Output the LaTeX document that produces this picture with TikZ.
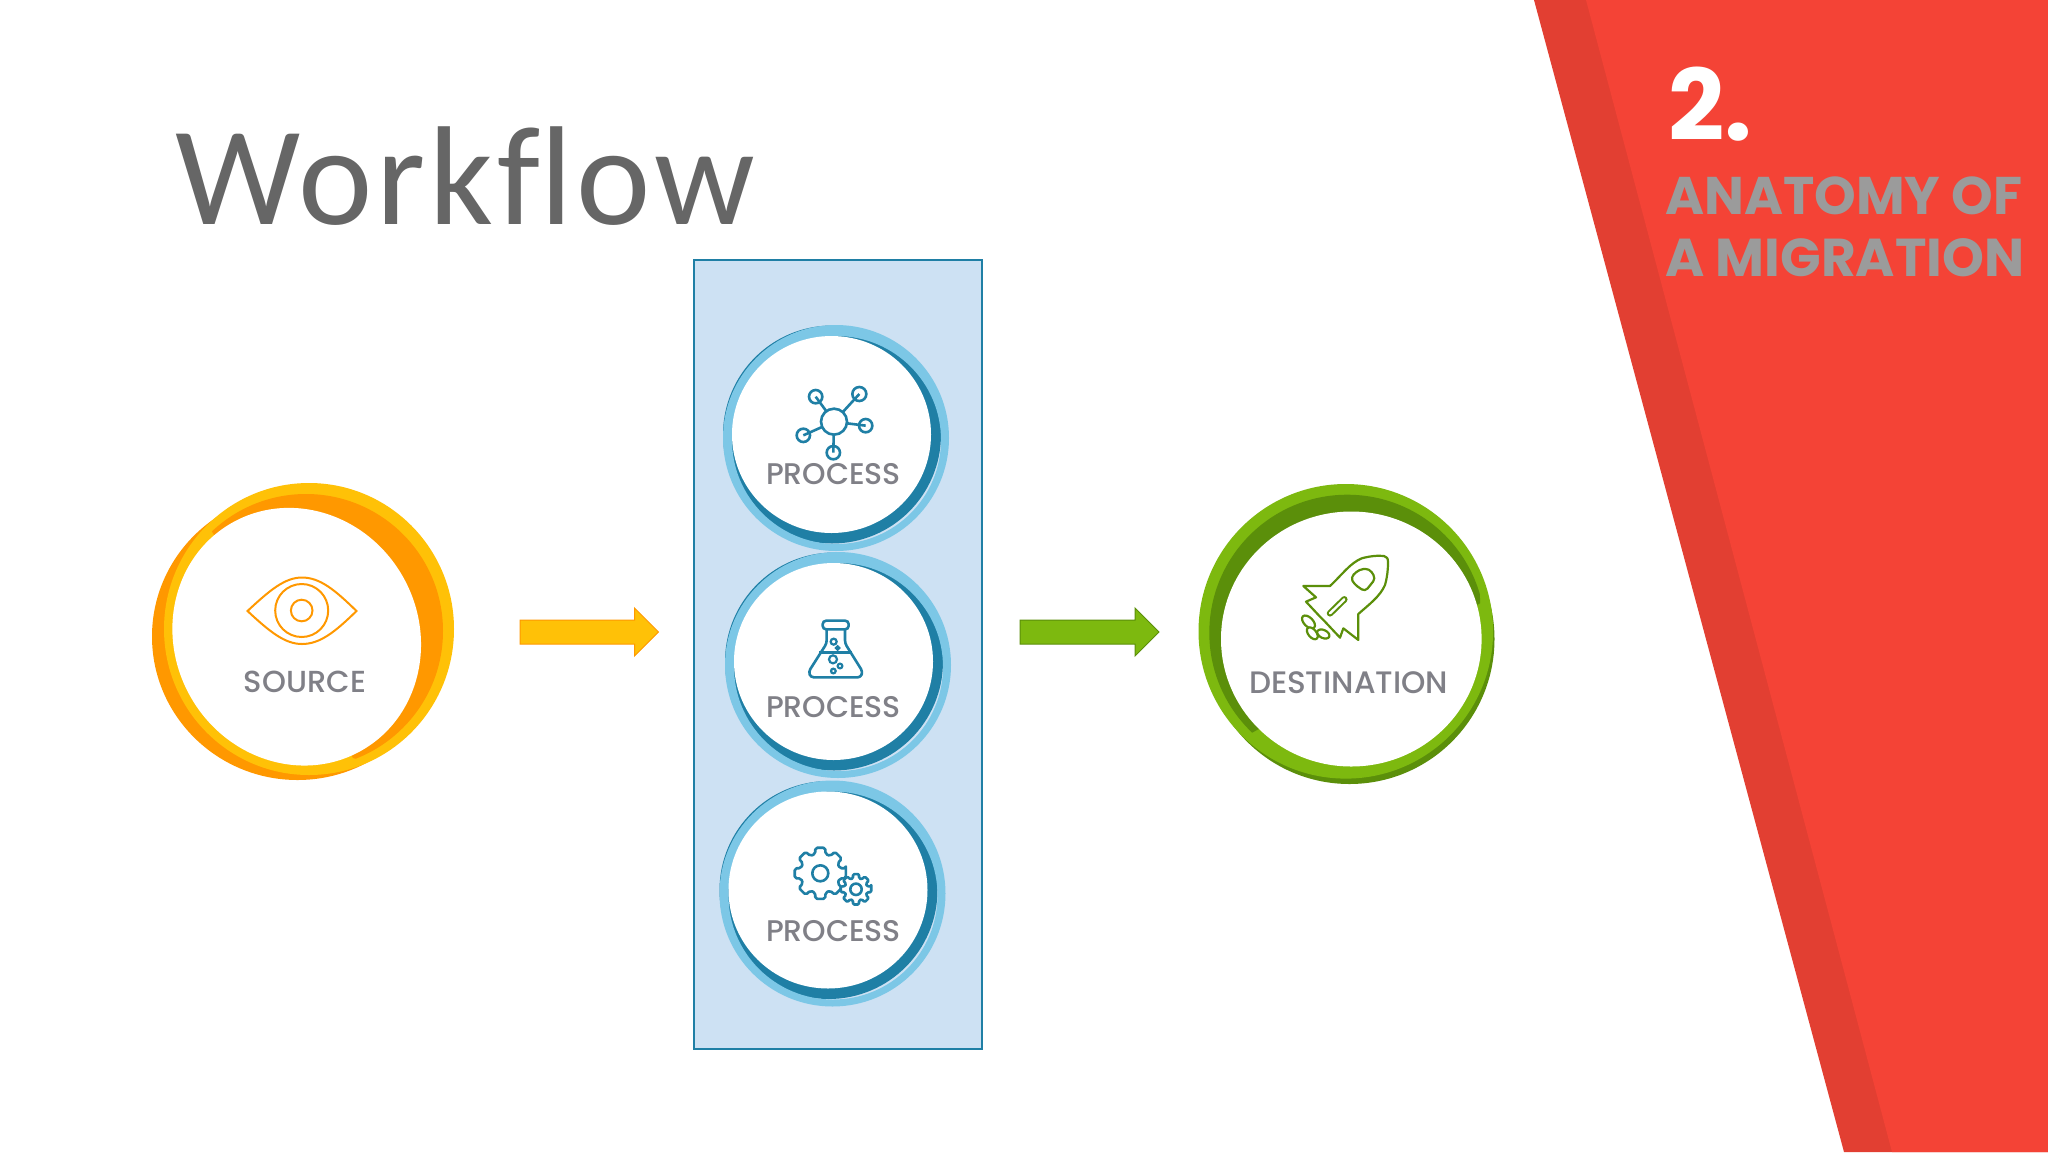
\documentclass[tikz,border=0pt]{standalone}
\usepackage{fontspec}
\newfontfamily\lblfont{Poppins Medium}
\newfontfamily\boldlbl{Poppins}[BoldFont={Poppins Bold}]
\newfontfamily\ttlfont{Carlito}[LetterSpace=2.8]
\definecolor{redB}{HTML}{F44336}
\definecolor{redD}{HTML}{E23F32}
\definecolor{yelL}{HTML}{FFC107}
\definecolor{yelD}{HTML}{FF9800}
\definecolor{bluL}{HTML}{7CC7E6}
\definecolor{bluD}{HTML}{1F7FA5}
\definecolor{bluBg}{HTML}{CDE1F3}
\definecolor{grnL}{HTML}{7DB90F}
\definecolor{grnD}{HTML}{5B8F0A}
\definecolor{lblgray}{HTML}{808087}
\definecolor{ttlgray}{HTML}{666666}
\definecolor{subgray}{HTML}{9B9B9B}
\tikzset{
  lbl/.style={inner sep=0pt,anchor=base,text=lblgray},
  orangeicon/.style={draw=yelD,line width=2pt,fill=none},
  blueicon/.style={draw=bluD,line width=2.6pt,fill=white},
  greenicon/.style={draw=grnD,line width=2.2pt,fill=white,line join=round},
}
\newcommand{\fitw}[2]{\resizebox{#1pt}{!}{#2}}
\newcommand{\bluering}[2]{%
  \fill[bluD] (#1+0.5,#2) circle[radius=109];
  \fill[bluL,even odd rule] (#1+4.5,#2+3.5) circle[radius=113] (#1+5,#2+5.5) ellipse[x radius=104.5,y radius=104];
  \fill[white] (#1,#2) ellipse[x radius=99.5,y radius=98.5];
}
\begin{document}
\begin{tikzpicture}[x=1pt,y=-1pt]
\useasboundingbox (0,0) rectangle (2048,1152);
\fill[white] (0,0) rectangle (2048,1152);
% red band
\fill[redD] (1534,0) -- (2048,0) -- (2048,1152) -- (1844,1152) -- cycle;
\fill[redB] (1586,0) -- (2048,0) -- (2048,1152) -- (1892,1152) -- cycle;
\node[inner sep=0pt,anchor=base west,text=white] (num) at (1668,140) {\fitw{84}{\boldlbl\bfseries 2.}};
\node[inner sep=0pt,anchor=base west,text=subgray] (sub1) at (1665,214) {\fitw{357}{\boldlbl\bfseries ANATOMY OF}};
\node[inner sep=0pt,anchor=base west,text=subgray] (sub2) at (1665,276) {\fitw{359}{\boldlbl\bfseries A MIGRATION}};
% title
\node[inner sep=0pt,anchor=base west,text=ttlgray] (title) at (175,224) {\fitw{580}{\ttlfont Workf\kern0pt low}};
% source
\fill[yelD] (297.5,636.5) ellipse[x radius=145.5,y radius=143.5];
\fill[yelL] (309,629) ellipse[x radius=145,y radius=146];
\begin{scope}
  \clip (211,530) -- (353,758) -- (500,800) -- (500,400) -- (211,400) -- cycle;
  \fill[yelD] (306,631) circle[radius=137];
\end{scope}
\fill[white,rotate around={-60:(296.7,636.7)}] (296.7,636.7) ellipse[x radius=131,y radius=122];
\draw[orangeicon] (247.5,611) .. controls (270,590) and (285,577.5) .. (302,577.5) .. controls (320,577.5) and (335,590) .. (356.5,611) .. controls (335,632) and (320,644) .. (302,644) .. controls (285,644) and (270,632) .. (247.5,611) -- cycle;
\draw[orangeicon] (301.7,610.5) circle[radius=26.5];
\draw[orangeicon] (301.7,610.5) circle[radius=10.8];
\node[lbl] (source) at (305,692) {\fitw{122}{\lblfont SOURCE}};
% arrow yellow
\draw[fill=yelL,draw=yelD,line width=1pt,line join=miter] (520,620) -- (634.5,620) -- (634.5,608) -- (658.5,632) -- (634.5,656) -- (634.5,644) -- (520,644) -- cycle;
% box
\draw[fill=bluBg,draw=bluD,line width=2pt] (694,260) rectangle (982,1049);
\bluering{831.5}{434.5}
\bluering{833.5}{661.5}
\bluering{828}{890}
% network icon
\begin{scope}[shift={(690,250)},scale=1/3]
  \foreach \px/\py/\pr in {377/440/20,508/432/21,527/527/20,340/556/20,430/608/20}{
    \draw[blueicon] (\px,\py) circle[radius=\pr];
    \draw[bluD,line width=2.6pt] (432,515) -- (\px,\py);
  }
  \draw[blueicon] (432,515) circle[radius=39];
\end{scope}
\node[lbl] (proc1) at (833.5,484) {\fitw{135}{\lblfont PROCESS}};
% flask
\begin{scope}[shift={(690,540)},scale=1/3]
  \draw[blueicon,fill=none,line join=round,rounded corners=3pt] (410,268) -- (410,310) -- (356,395) -- (362,412) -- (512,412) -- (518,395) -- (465,310) -- (465,268);
  \draw[blueicon,fill=none,rounded corners=3.5pt] (398,242) rectangle (476,268);
  \draw[bluD,line width=2.6pt] (388,338) -- (486,338);
  \draw[bluD,line width=2.2pt] (431,305) circle[radius=9] (443,324) circle[radius=5] (429,358) circle[radius=12] (450,378) circle[radius=7] (430,393) circle[radius=7];
\end{scope}
\node[lbl] (proc2) at (833.5,717) {\fitw{135}{\lblfont PROCESS}};
% gears
\begin{scope}[line join=round]
  \draw[blueicon,rounded corners=1.8pt] (820.3,873.3) ++(-11:26)
    \foreach \a in {0,45,...,315}{
      -- ({820.3+26*cos(\a-11)},{873.3+26*sin(\a-11)})
      -- ({820.3+26*cos(\a+11)},{873.3+26*sin(\a+11)})
      -- ({820.3+20*cos(\a+15)},{873.3+20*sin(\a+15)})
      -- ({820.3+20*cos(\a+30)},{873.3+20*sin(\a+30)})
    } -- cycle;
  \draw[blueicon] (820.3,873.3) circle[radius=8];
  \draw[blueicon,rounded corners=1.2pt] (856,889.3) ++(-11:15.5)
    \foreach \a in {0,45,...,315}{
      -- ({856+15.5*cos(\a-11)},{889.3+15.5*sin(\a-11)})
      -- ({856+15.5*cos(\a+11)},{889.3+15.5*sin(\a+11)})
      -- ({856+11.5*cos(\a+15)},{889.3+11.5*sin(\a+15)})
      -- ({856+11.5*cos(\a+30)},{889.3+11.5*sin(\a+30)})
    } -- cycle;
  \draw[blueicon] (856,889.3) circle[radius=5.7];
\end{scope}
\node[lbl] (proc3) at (833.5,941) {\fitw{135}{\lblfont PROCESS}};
% arrow green
\draw[fill=grnL,draw=grnD,line width=1pt,line join=miter] (1020,620) -- (1135,620) -- (1135,608) -- (1159,632) -- (1135,656) -- (1135,644) -- (1020,644) -- cycle;
% destination
\fill[grnD] (1349.5,639) circle[radius=145];
\fill[grnL] (1345.8,631.3) circle[radius=147.3];
\begin{scope}
  \clip (1480,603.3) -- (1251.7,733) -- (1100,733) -- (1100,400) -- (1480,400) -- cycle;
  \fill[grnD] (1347.3,632.7) circle[radius=138];
\end{scope}
\fill[white] (1351.3,639) ellipse[x radius=130.3,y radius=127.5];
\begin{scope}[shift={(1000,470)},scale=1/3]
  \draw[greenicon] (990,348) .. controls (1030,310) and (1050,280) .. (1085,265) .. controls (1110,258) and (1135,256) .. (1152,258) .. controls (1160,260) and (1164,265) .. (1164,275) .. controls (1164,300) and (1162,320) .. (1155,345) .. controls (1140,380) and (1105,405) .. (1075,432) -- (1075,510) -- (1030,475) -- (1020,503) -- (975,455) -- (960,440) -- (918,395) -- (948,382) -- (910,348) -- cycle;
  \draw[greenicon,rounded corners=4pt] (1052,322) -- (1078,298) -- (1108,296) -- (1127,325) -- (1095,365) -- (1062,342) -- cycle;
  \draw[grnD,line width=6.5pt,line cap=round] (990,430) -- (1033,388);
  \draw[white,line width=2.4pt,line cap=round] (990,430) -- (1033,388);
\end{scope}
\draw[greenicon,rotate around={-45:(1308.5,622)}] (1308.5,622) ellipse[x radius=8,y radius=4.5];
\draw[greenicon,rotate around={-50:(1312.3,633.3)}] (1312.3,633.3) ellipse[x radius=7,y radius=4];
\draw[greenicon,rotate around={-25:(1323.3,634)}] (1323.3,634) ellipse[x radius=6.5,y radius=4];
\node[lbl] (dest) at (1348.5,693) {\fitw{199}{\lblfont DESTINATION}};
\end{tikzpicture}
\end{document}
